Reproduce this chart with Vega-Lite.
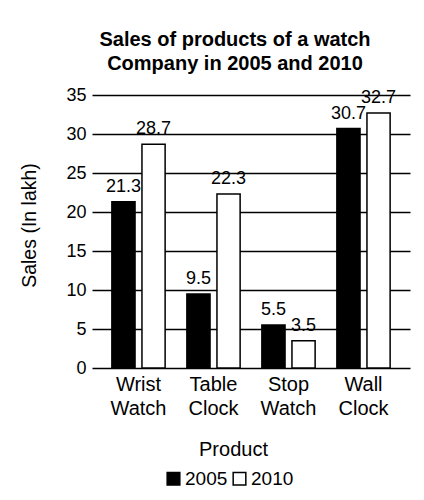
{
  "$schema": "https://vega.github.io/schema/vega-lite/v6.json",
  "width": 318,
  "height": 273,
  "autosize": "none",
  "padding": {"left": 92, "top": 95, "right": 14, "bottom": 132},
  "background": "white",
  "config": {
    "font": "Liberation Sans",
    "view": {"stroke": null}
  },
  "title": {
    "text": ["Sales of products of a watch", "Company in 2005 and 2010"],
    "font": "Liberation Sans",
    "fontSize": 20,
    "fontWeight": "bold",
    "color": "black",
    "anchor": "middle",
    "dx": -16,
    "offset": 12,
    "lineHeight": 24
  },
  "data": {
    "values": [
      {"product": "Wrist Watch", "year": "2005", "sales": 21.3},
      {"product": "Wrist Watch", "year": "2010", "sales": 28.7},
      {"product": "Table Clock", "year": "2005", "sales": 9.5},
      {"product": "Table Clock", "year": "2010", "sales": 22.3},
      {"product": "Stop Watch", "year": "2005", "sales": 5.5},
      {"product": "Stop Watch", "year": "2010", "sales": 3.5},
      {"product": "Wall Clock", "year": "2005", "sales": 30.7},
      {"product": "Wall Clock", "year": "2010", "sales": 32.7}
    ]
  },
  "encoding": {
    "x": {
      "field": "product",
      "type": "nominal",
      "sort": null,
      "scale": {"paddingInner": 0.29, "paddingOuter": 0.265},
      "axis": {
        "title": "Product",
        "titleFont": "Liberation Sans",
        "titleFontSize": 20,
        "titleFontWeight": "normal",
        "titleColor": "black",
        "titleX": 141,
        "titlePadding": 21,
        "labelExpr": "split(datum.label, ' ')",
        "labelAngle": 0,
        "labelFont": "Liberation Sans",
        "labelFontSize": 20,
        "labelColor": "black",
        "labelLineHeight": 24,
        "labelPadding": 6,
        "domain": false,
        "ticks": false
      }
    },
    "xOffset": {"field": "year", "type": "nominal", "scale": {"paddingInner": 0.23}},
    "y": {
      "field": "sales",
      "type": "quantitative",
      "scale": {"domain": [0, 35]},
      "axis": {
        "title": "Sales (In lakh)",
        "titleFont": "Liberation Sans",
        "titleFontSize": 19.5,
        "titleFontWeight": "normal",
        "titleColor": "black",
        "titlePadding": 26,
        "titleY": 130,
        "values": [0, 5, 10, 15, 20, 25, 30, 35],
        "labelFont": "Liberation Sans",
        "labelFontSize": 18,
        "labelColor": "black",
        "labelPadding": 6,
        "domain": false,
        "ticks": false,
        "grid": true,
        "gridColor": "black",
        "gridWidth": 1.5,
        "gridOpacity": 1
      }
    }
  },
  "layer": [
    {
      "mark": {"type": "bar", "stroke": "black", "strokeWidth": 1.5},
      "encoding": {
        "color": {
          "field": "year",
          "type": "nominal",
          "scale": {"domain": ["2005", "2010"], "range": ["black", "white"]},
          "legend": {
            "title": null,
            "orient": "none",
            "direction": "horizontal",
            "legendX": 72,
            "legendY": 374,
            "symbolType": "square",
            "symbolSize": 160,
            "symbolStrokeColor": "black",
            "symbolStrokeWidth": 1.5,
            "symbolOpacity": 1,
            "labelFont": "Liberation Sans",
            "labelFontSize": 19,
            "labelColor": "black",
            "labelOffset": 2,
            "columnPadding": 2
          }
        }
      }
    },
    {
      "mark": {"type": "text", "baseline": "bottom", "dy": -6, "fontSize": 18, "font": "Liberation Sans", "color": "black"},
      "encoding": {
        "text": {"field": "sales", "type": "quantitative", "format": ".1f"}
      }
    }
  ]
}
